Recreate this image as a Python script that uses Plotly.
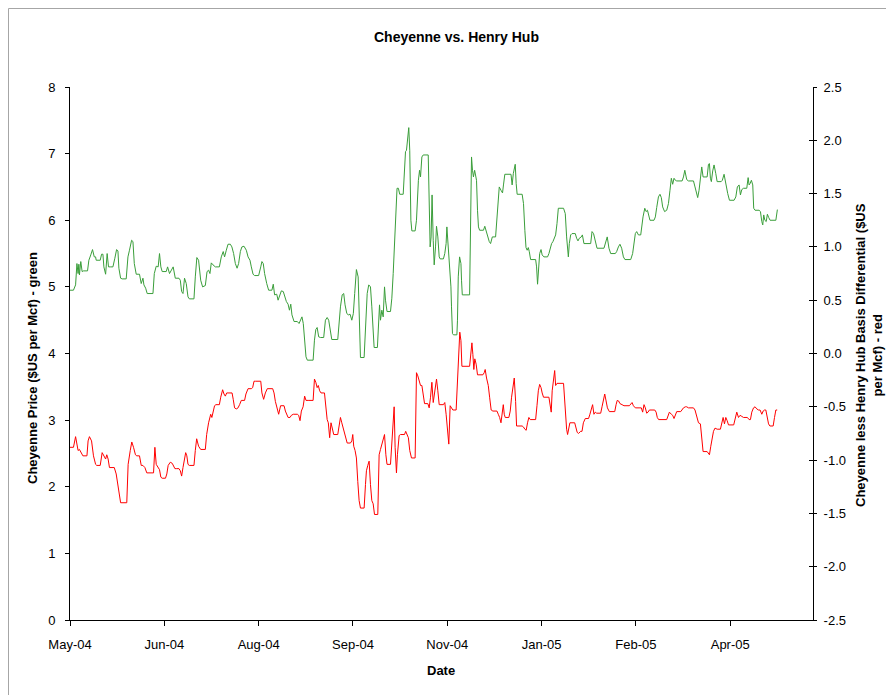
import pandas as pd
import plotly.graph_objects as go

# ---------------- data ----------------
start_date = "2004-05-01"

green_day = [
    0, 1.8, 2.9, 3.6, 4.2, 4.6, 4.9, 5.6, 6.3, 7.0, 9.1, 9.8, 10.8, 11.7, 12.6, 13.3, 13.6, 15.7, 16.4, 17.1,
    17.6, 18.5, 19.3, 20.0, 20.9, 22.3, 23.3, 24.2, 24.9, 25.4, 26.3, 27.1, 29.2, 30.1, 30.9, 32.0, 32.7, 33.4, 34.4, 36.1,
    37.0, 37.9, 38.4, 39.3, 40.1, 43.1, 43.8, 44.8, 45.8, 46.5, 47.2, 47.9, 50.0, 50.7, 51.7, 52.8, 53.6, 54.7, 56.6, 57.3,
    58.0, 58.7, 59.5,
    60.4, 61.3, 62.0, 64.4, 65.1, 65.9, 66.8, 67.9, 68.9, 70.3, 71.2, 72.0, 72.7, 73.4, 74.3, 75.5, 77.6, 78.6, 79.6, 80.3,
    81.2, 82.1, 83.3, 84.1, 85.0, 85.9, 86.8, 87.6, 88.5, 89.3, 90.4, 91.6, 92.5, 93.5, 94.2, 95.1, 95.9, 98.0, 99.1, 99.7,
    100.4, 101.1, 102.2, 103.2, 104.9, 105.6, 106.3, 107.4, 108.1, 108.9, 109.8, 110.8, 111.5, 112.4, 113.3, 114.0, 114.7, 115.3, 116.4, 118.1,
    119.0, 119.9, 120.5, 121.2, 121.9, 122.6, 123.3, 126.3,
    127.0, 127.7, 128.4, 129.2, 130.1, 131.8, 132.7, 133.6, 134.4, 135.3, 136.0, 139.1, 139.8, 140.5, 141.4, 142.2, 142.9, 143.8, 144.6, 145.5,
    146.4, 147.2, 147.9, 148.8, 149.7, 150.4, 150.9, 152.8, 153.5, 154.4, 155.2, 156.1, 156.8, 157.5, 158.0, 159.7, 160.2, 160.8, 161.3, 162.0,
    162.7, 163.4, 163.9, 164.7, 166.5, 167.2, 167.9, 168.6, 169.3, 169.9, 170.6, 171.3, 173.1, 173.6, 174.3, 174.8, 175.3, 176.0, 176.5, 177.1,
    177.6, 179.3, 180.0, 180.5, 181.0, 181.6, 182.1, 182.8, 183.5, 186.1, 186.6, 187.1, 187.6, 188.1, 188.7, 189.2, 189.9,
    190.4, 191.1, 191.8, 192.3, 194.0, 194.7, 195.4, 195.8, 196.5, 197.2, 197.9, 198.2, 198.7, 199.2, 201.0, 201.3, 201.7, 202.4, 203.1, 203.4,
    203.8, 207.6, 208.1, 208.6, 209.1, 209.6, 210.2, 210.7, 211.2, 211.7, 212.2, 212.8, 214.8, 215.5, 216.2, 216.9, 217.8, 218.5, 219.4, 221.1,
    221.8, 222.5, 223.0, 223.9, 224.7, 225.2, 225.9, 229.1, 229.7, 230.3, 230.8, 231.3, 231.8, 232.3, 234.9, 235.6, 236.3, 236.9, 237.5, 238.1,
    238.6, 239.3, 241.9, 242.4, 242.9, 243.4, 244.0, 244.7, 245.3, 246.2, 248.1, 248.8, 249.5, 250.2, 250.9, 251.6, 252.3, 253.0, 253.7, 256.4,
    257.3, 258.0, 258.5, 258.9, 259.4, 260.1, 260.8, 262.5, 263.2, 263.9, 264.6, 265.6, 266.2, 267.0, 270.5, 271.2, 272.0, 272.9, 273.8, 277.4,
    278.3, 279.1, 280.0, 280.9, 283.3, 284.0, 284.9, 285.7, 286.6, 287.5, 288.3, 291.3, 292.3, 293.0, 293.7, 294.4, 295.3, 296.5, 297.2, 297.7,
    298.6, 299.3, 300.0, 300.6, 301.3, 303.4, 304.1, 304.8, 305.7, 306.5, 307.2, 307.9, 308.9, 310.0, 310.9, 311.7, 312.4, 313.1, 313.8, 314.5,
    315.2, 318.0, 318.7, 319.4,
    320.4, 321.3, 323.9, 324.7, 325.6, 326.1, 326.8, 327.5, 328.2, 328.9, 331.0, 331.7, 332.2, 332.7, 333.2, 333.9, 334.6, 335.5, 336.2, 338.3,
    338.9, 339.8, 340.3, 341.0, 341.7, 342.6, 345.0, 345.9, 346.7, 347.6, 348.3, 349.0, 349.9, 351.6, 352.3, 352.8, 353.3, 354.0, 354.7, 355.2,
    355.9, 358.0, 358.7, 359.4, 359.9, 360.4, 361.0, 361.7, 362.3, 363.0, 363.7, 366.7, 367.5,
]

green_price = [
    4.95, 4.95, 5.03, 5.35, 5.2, 5.34, 5.18, 5.38, 5.23, 5.24, 5.24, 5.4, 5.48, 5.56, 5.45, 5.45, 5.4, 5.4, 5.49, 5.49,
    5.3, 5.19, 5.5, 5.3, 5.3, 5.3, 5.43, 5.56, 5.54, 5.28, 5.13, 5.12, 5.12, 5.45, 5.55, 5.7, 5.68, 5.35, 5.19, 5.19,
    5.05, 5.13, 5.03, 4.98, 4.9, 4.9, 5.2, 5.31, 5.3, 5.5, 5.3, 5.23, 5.23, 5.3, 5.2, 5.25, 5.3, 5.13, 5.13, 5.1,
    4.93, 4.9, 5.13,
    5.05, 4.85, 4.82, 4.82, 5.15, 5.44, 5.4, 5.1, 5.0, 5.02, 5.23, 5.25, 5.2, 5.36, 5.33, 5.3, 5.3, 5.45, 5.53, 5.45,
    5.55, 5.64, 5.64, 5.6, 5.5, 5.35, 5.28, 5.35, 5.53, 5.6, 5.61, 5.55, 5.45, 5.4, 5.3, 5.19, 5.17, 5.17, 5.3, 5.38,
    5.35, 5.2, 5.05, 4.95, 4.95, 5.04, 4.88, 4.89, 4.8, 4.88, 4.94, 4.93, 4.85, 4.78, 4.74, 4.65, 4.74, 4.58, 4.48, 4.48,
    4.45, 4.5, 4.55, 4.45, 4.25, 3.95, 3.9, 3.9,
    4.2, 4.36, 4.39, 4.25, 4.24, 4.24, 4.5, 4.54, 4.5, 4.35, 4.21, 4.21, 4.53, 4.7, 4.88, 4.9, 4.73, 4.6, 4.58, 4.59,
    4.5, 4.6, 4.9, 5.26, 5.15, 4.5, 3.94, 3.94, 4.3, 4.9, 5.03, 5.0, 4.7, 4.3, 4.09, 4.09, 4.4, 4.73, 4.5, 4.65,
    4.55, 5.0, 4.8, 4.63, 4.63, 4.83, 5.2, 5.65, 6.05, 6.48, 6.48, 6.39, 6.39, 6.7, 7.03, 7.05, 7.2, 7.39, 7.05, 6.0,
    5.84, 5.84, 6.0, 6.35, 6.6, 6.75, 6.65, 6.95, 6.98, 6.98, 6.25, 5.6, 5.75, 6.38, 5.7, 5.33, 5.6,
    5.91, 5.75, 5.45, 5.42, 5.42, 5.5, 5.65, 5.9, 5.6, 5.25, 5.0, 4.7, 4.3, 4.28, 4.28, 4.5, 5.15, 5.45, 5.35, 5.1,
    4.88, 4.88, 5.8, 6.95, 6.75, 6.65, 6.75, 6.68, 6.6, 6.15, 5.9, 5.85, 5.85, 5.91, 5.83, 5.78, 5.68, 5.65, 5.75, 5.75,
    6.0, 6.3, 6.5, 6.45, 6.41, 6.53, 6.69, 6.69, 6.53, 6.7, 6.75, 6.84, 6.55, 6.39, 6.39, 6.25, 5.85, 5.59, 5.55, 5.59,
    5.53, 5.41, 5.41, 5.3, 5.04, 5.3, 5.5, 5.56, 5.48, 5.45, 5.45, 5.5, 5.58, 5.65, 5.68, 5.73, 5.78, 5.95, 6.18, 6.18,
    6.1, 5.75, 5.55, 5.45, 5.65, 5.78, 5.8, 5.8, 5.73, 5.69, 5.73, 5.75, 5.78, 5.65, 5.65, 5.83, 5.8, 5.68, 5.58, 5.58,
    5.68, 5.75, 5.58, 5.5, 5.5, 5.53, 5.6, 5.64, 5.58, 5.45, 5.41, 5.41, 5.5, 5.63, 5.8, 5.83, 5.78, 5.78, 5.95, 6.05,
    6.18, 6.13, 6.15, 6.05, 6.0, 6.0, 6.05, 6.19, 6.35, 6.39, 6.34, 6.2, 6.13, 6.15, 6.25, 6.45, 6.63, 6.54, 6.63, 6.6,
    6.59, 6.59, 6.65, 6.75,
    6.61, 6.59, 6.59, 6.5, 6.38, 6.34, 6.45, 6.6, 6.8, 6.65, 6.65, 6.84, 6.85, 6.63, 6.58, 6.74, 6.83, 6.7, 6.58, 6.58,
    6.6, 6.69, 6.6, 6.5, 6.4, 6.3, 6.3, 6.35, 6.5, 6.53, 6.38, 6.46, 6.48, 6.48, 6.64, 6.53, 6.55, 6.6, 6.53, 6.18,
    6.15, 6.15, 6.13, 5.98, 5.93, 6.08, 6.0, 5.98, 6.09, 6.04, 6.0, 6.0, 6.16,
]

red_day = [
    0, 1.8, 2.9, 3.6, 4.2, 4.9, 5.6, 6.7, 8.8, 9.4, 10.1, 11.2, 12.2, 13.3, 13.9, 15.7, 16.7, 17.6, 18.5, 19.1,
    19.8, 20.5, 23.0, 24.0, 24.9, 25.7, 26.3, 29.5, 30.2, 31.3, 32.1, 33.0, 34.0, 34.7, 36.1, 37.0, 37.9, 38.9, 39.9, 43.4,
    44.1, 44.8, 45.8, 46.5, 47.2, 47.9, 49.6, 50.3, 51.0, 52.1, 53.1, 53.8, 54.5, 55.2, 56.6, 57.3, 58.0, 58.7, 59.4, 60.1,
    60.7,
    61.3, 62.0, 64.4, 65.1, 65.8, 66.8, 67.9, 70.3, 71.0, 72.0, 73.1, 73.7, 74.4, 75.1, 75.8, 77.6, 78.3, 79.3, 80.0, 80.7,
    81.4, 82.1, 84.2, 84.8, 85.5, 86.4, 87.3, 88.1, 89.0, 90.7, 91.4, 92.5, 94.2, 94.9, 95.6, 96.3, 99.1, 99.7, 100.6, 101.5,
    102.5, 105.3, 106.0, 106.7, 107.7, 108.4, 109.4, 111.2, 111.9, 112.6, 113.3, 114.3, 115.0, 116.0, 117.4, 118.1, 118.8, 119.5, 120.2, 121.1,
    121.9, 122.6, 123.7, 126.3,
    127.0, 127.7, 128.4, 129.0, 129.7, 130.4, 132.2, 132.9, 133.6, 134.2, 134.9, 135.6, 136.3, 137.0, 139.1, 139.8, 140.5, 141.2, 141.9, 142.6,
    143.3, 144.0, 145.7, 146.4, 146.9, 147.4, 148.1, 148.8, 149.5, 150.2, 150.9, 152.8, 153.5, 154.0, 154.7, 155.4, 156.1, 156.8, 157.5, 158.2,
    159.9, 160.6, 161.3, 162.0, 162.7, 163.4, 164.1, 164.7, 166.5, 167.2, 167.9, 168.4, 168.9, 169.6, 170.1, 171.0, 171.7, 173.8, 174.4, 175.1,
    175.8, 176.5, 177.4, 179.3, 180.0, 180.7, 181.4, 182.1, 182.8, 183.5, 184.2, 185.9, 186.6, 187.3, 188.0, 188.7, 189.4,
    190.4, 191.1, 191.8, 194.0, 194.7, 195.4, 196.1, 196.8, 197.5, 198.2, 198.9, 200.6, 201.3, 202.0, 202.5, 203.1, 203.6, 207.6, 208.3, 208.8,
    209.3, 209.8, 210.3, 211.0, 211.7, 214.5, 215.2, 215.7, 216.4, 217.3, 218.0, 218.8, 219.7, 221.8, 222.5, 223.2, 223.9, 224.5, 225.1, 225.6,
    226.1, 228.0, 228.7, 229.4, 230.1, 230.8, 231.5, 232.0, 234.9, 235.6, 236.3, 237.0, 237.7, 238.4, 239.1, 241.9, 242.6, 243.3, 244.0, 244.7,
    245.3, 246.0, 248.8, 249.5, 250.0, 250.5, 251.2, 251.8, 252.3, 253.0, 256.4,
    257.3, 258.0, 258.5, 259.0, 259.7, 262.2, 262.9, 263.5, 264.2, 265.3, 266.0, 266.7, 267.7, 269.4, 270.1, 270.8, 271.5, 272.2, 272.9, 273.6,
    275.7, 276.4, 277.1, 277.8, 278.5, 279.2, 280.2, 283.0, 283.7, 284.3, 285.0, 285.7, 286.8, 287.8, 290.6, 291.3, 292.0, 292.7, 293.7, 296.1,
    296.8, 297.5, 298.2, 298.9, 299.6, 300.3, 301.0, 303.8, 304.5, 305.1, 305.8, 310.0, 310.7, 311.4, 312.4, 313.1, 313.8, 314.5, 315.2, 317.3,
    318.0, 318.7, 319.7,
    320.4, 321.3, 323.9, 324.7, 325.6, 326.5, 327.5, 328.2, 328.9, 331.0, 331.7, 332.2, 332.9, 333.6, 334.3, 335.1, 336.2, 337.9, 338.6, 339.3,
    340.0, 340.7, 341.4, 342.1, 344.8, 345.5, 346.4, 347.3, 348.1, 349.0, 349.9, 351.9, 352.8, 353.5, 354.2, 355.1, 355.9, 356.8, 357.7, 358.5,
    359.4, 360.1, 360.8, 361.5, 362.2, 362.9, 363.6, 365.3, 366.0, 366.7, 367.4,
]

red_diff = [
    -0.88, -0.88, -0.78, -0.87, -0.91, -0.9, -0.93, -0.96, -0.96, -0.82, -0.78, -0.82, -0.96, -1.04, -1.05, -1.05, -0.93, -0.96, -0.99, -0.95,
    -0.99, -1.07, -1.07, -1.13, -1.23, -1.32, -1.4, -1.4, -1.04, -0.91, -0.83, -0.88, -0.95, -0.96, -0.96, -1.05, -1.05, -1.07, -1.12, -1.12,
    -0.88, -1.04, -1.07, -1.09, -1.16, -1.17, -1.17, -1.13, -1.05, -1.02, -1.03, -1.05, -1.08, -1.08, -1.08, -1.1, -1.15, -1.07, -0.98, -0.93,
    -0.96,
    -1.04, -1.05, -1.05, -0.91, -0.8, -0.87, -0.9, -0.9, -0.76, -0.65, -0.57, -0.6, -0.55, -0.49, -0.48, -0.48, -0.41, -0.34, -0.38, -0.4,
    -0.37, -0.37, -0.37, -0.43, -0.51, -0.52, -0.51, -0.48, -0.44, -0.44, -0.38, -0.33, -0.33, -0.32, -0.26, -0.26, -0.26, -0.37, -0.43, -0.37,
    -0.33, -0.33, -0.37, -0.45, -0.54, -0.57, -0.49, -0.49, -0.54, -0.57, -0.6, -0.6, -0.58, -0.57, -0.57, -0.57, -0.58, -0.63, -0.54, -0.5,
    -0.4, -0.44, -0.44, -0.44,
    -0.24, -0.27, -0.32, -0.3, -0.35, -0.37, -0.37, -0.51, -0.62, -0.65, -0.79, -0.65, -0.71, -0.76, -0.76, -0.68, -0.6, -0.65, -0.7, -0.74,
    -0.8, -0.84, -0.84, -0.82, -0.76, -0.87, -0.91, -0.98, -1.2, -1.38, -1.45, -1.45, -1.23, -1.1, -1.05, -1.01, -1.23, -1.38, -1.41, -1.51,
    -1.51, -0.95, -0.9, -0.85, -0.82, -0.76, -0.95, -1.04, -1.04, -0.79, -0.63, -0.5, -0.88, -1.12, -0.95, -0.77, -0.76, -0.76, -0.73, -0.76,
    -0.79, -0.91, -0.98, -0.98, -0.18, -0.21, -0.26, -0.3, -0.3, -0.38, -0.47, -0.47, -0.51, -0.41, -0.27, -0.46, -0.37,
    -0.24, -0.35, -0.48, -0.48, -0.46, -0.57, -0.76, -0.85, -0.49, -0.51, -0.53, -0.53, -0.23, 0.15, 0.2, 0.12, -0.12, -0.12, -0.02, 0.1,
    -0.01, -0.15, -0.05, -0.1, -0.2, -0.2, -0.18, -0.15, -0.23, -0.3, -0.41, -0.53, -0.54, -0.54, -0.57, -0.6, -0.65, -0.54, -0.48, -0.57,
    -0.6, -0.6, -0.54, -0.41, -0.3, -0.23, -0.45, -0.68, -0.68, -0.69, -0.71, -0.72, -0.65, -0.6, -0.62, -0.62, -0.49, -0.35, -0.29, -0.32,
    -0.37, -0.41, -0.41, -0.51, -0.55, -0.35, -0.26, -0.16, -0.3, -0.28, -0.28,
    -0.57, -0.71, -0.76, -0.7, -0.65, -0.65, -0.7, -0.74, -0.75, -0.73, -0.73, -0.65, -0.61, -0.61, -0.57, -0.52, -0.48, -0.57, -0.55, -0.56,
    -0.56, -0.5, -0.445, -0.38, -0.445, -0.51, -0.545, -0.545, -0.48, -0.44, -0.445, -0.47, -0.48, -0.49, -0.49, -0.47, -0.46, -0.49, -0.51, -0.51,
    -0.51, -0.55, -0.48, -0.51, -0.56, -0.55, -0.53, -0.53, -0.55, -0.6, -0.62, -0.62, -0.59, -0.55, -0.57, -0.58, -0.61, -0.57, -0.545, -0.545,
    -0.53, -0.51, -0.5,
    -0.5, -0.51, -0.51, -0.53, -0.6, -0.65, -0.66, -0.79, -0.92, -0.92, -0.94, -0.95, -0.87, -0.79, -0.73, -0.7, -0.71, -0.71, -0.66, -0.6,
    -0.66, -0.6, -0.63, -0.67, -0.67, -0.62, -0.55, -0.6, -0.58, -0.59, -0.6, -0.6, -0.62, -0.62, -0.55, -0.51, -0.5, -0.52, -0.53, -0.53,
    -0.57, -0.54, -0.53, -0.53, -0.6, -0.66, -0.68, -0.68, -0.6, -0.53, -0.53,
]

right_tick_vals = [-2.5, -2.0, -1.5, -1.0, -0.5, 0.0, 0.5, 1.0, 1.5, 2.0, 2.5]
right_tick_text = ["-2.5", "-2.0", "-1.5", "-1.0", "-0.5", "0.0", "0.5", "1.0", "1.5", "2.0", "2.5"]

title_text = "Cheyenne vs. Henry Hub"
left_title = "Cheyenne Price ($US per Mcf) - green"
right_title = "Cheyenne less Henry Hub Basis Differential ($US<br>per Mcf) - red"
x_title = "Date"

# ---------------- build ----------------
n = min(len(green_day), len(green_price))
g_dates = pd.Timestamp(start_date) + pd.to_timedelta(green_day[:n], unit="D")
m = min(len(red_day), len(red_diff))
r_dates = pd.Timestamp(start_date) + pd.to_timedelta(red_day[:m], unit="D")

FONT = "Liberation Sans, Arial, sans-serif"
DAY_MS = 86400000

fig = go.Figure()
fig.add_trace(go.Scatter(x=g_dates, y=green_price[:n], mode="lines",
                         line=dict(color="#3a9e3a", width=1), yaxis="y", showlegend=False))
fig.add_trace(go.Scatter(x=r_dates, y=red_diff[:m], mode="lines",
                         line=dict(color="#ff0000", width=1), yaxis="y2", showlegend=False))
# empty helper trace so the inner tick marks of the right axis are drawn
fig.add_trace(go.Scatter(x=[], y=[], yaxis="y3", showlegend=False))

x_end = pd.Timestamp(start_date) + pd.Timedelta(days=386)

# The page body has an 8px margin, so the figure is drawn 8px in from the window edge.
OFF = 8
W, H = 894 - OFF, 695 - OFF
L, T = 70 - OFF, 87 - OFF
R = W - (813 - OFF)
B = H - (620 - OFF)

fig.update_layout(
    width=W, height=H,
    margin=dict(l=L, r=R, t=T, b=B, pad=0),
    paper_bgcolor="white", plot_bgcolor="white",
    font=dict(family=FONT, size=12, color="black"),
    xaxis=dict(type="date", range=[pd.Timestamp(start_date), x_end],
               tick0=start_date, dtick=49 * DAY_MS, tickformat="%b-%y",
               showline=True, linecolor="black", linewidth=1,
               ticks="outside", ticklen=5, tickcolor="black",
               showgrid=False, zeroline=False, ticklabelstandoff=7,
               tickfont=dict(size=13)),
    yaxis=dict(range=[0, 8], dtick=1, showline=True, linecolor="black", linewidth=1,
               ticks="outside", ticklen=4, tickcolor="black", ticklabelstandoff=7,
               showgrid=False, zeroline=False, tickfont=dict(size=13)),
    yaxis2=dict(range=[-2.5, 2.5], tickmode="array", tickvals=right_tick_vals, ticktext=right_tick_text,
                overlaying="y", side="right",
                showline=True, linecolor="black", linewidth=1,
                ticks="outside", ticklen=3, tickcolor="black", ticklabelstandoff=4,
                showgrid=False, zeroline=False, tickfont=dict(size=13)),
    yaxis3=dict(range=[-2.5, 2.5], tickmode="array", tickvals=right_tick_vals, overlaying="y", side="right",
                showline=False, ticks="inside", ticklen=4, tickcolor="black",
                showticklabels=False, showgrid=False, zeroline=False),
    showlegend=False,
)

PW = 813 - 70
PH = 620 - 87

def px_x(px):
    return (px - 70) / PW

def px_y(py):
    return (620 - py) / PH

annotations = [
    dict(text="<b>%s</b>" % title_text, x=px_x(457), y=px_y(37), xref="paper", yref="paper",
         showarrow=False, xanchor="center", yanchor="middle", font=dict(size=14, family=FONT)),
    dict(text="<b>%s</b>" % left_title, x=px_x(32), y=px_y(368), xref="paper", yref="paper",
         showarrow=False, textangle=-90, xanchor="center", yanchor="middle", font=dict(size=13, family=FONT)),
    dict(text="<b>%s</b>" % right_title, x=px_x(869), y=px_y(355), xref="paper", yref="paper",
         showarrow=False, textangle=-90, xanchor="center", yanchor="middle", font=dict(size=13, family=FONT)),
    dict(text="<b>%s</b>" % x_title, x=px_x(441), y=px_y(670), xref="paper", yref="paper",
         showarrow=False, xanchor="center", yanchor="middle", font=dict(size=13, family=FONT)),
]
fig.update_layout(annotations=annotations)

# chart-area border (light gray)
fig.add_shape(type="line", xref="paper", yref="paper", x0=px_x(8.5), x1=px_x(900), y0=px_y(8.5), y1=px_y(8.5),
              line=dict(color="#a6a6a6", width=1))
fig.add_shape(type="line", xref="paper", yref="paper", x0=px_x(8.5), x1=px_x(8.5), y0=px_y(8.5), y1=px_y(700),
              line=dict(color="#a6a6a6", width=1))

fig.write_html("out.html")
